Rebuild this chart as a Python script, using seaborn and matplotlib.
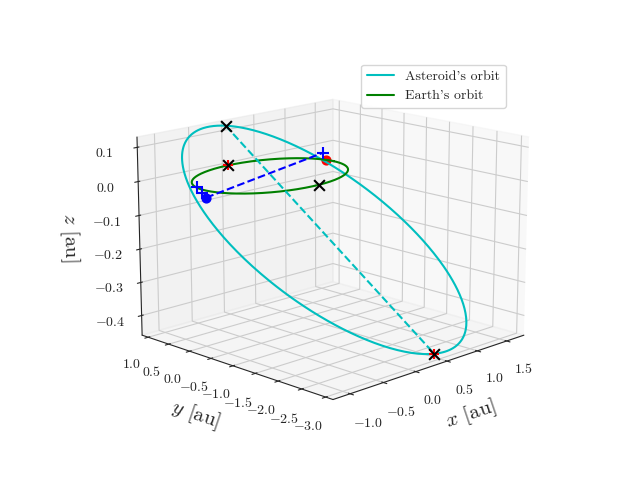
import numpy as np
import matplotlib
matplotlib.use("Agg")
import matplotlib.pyplot as plt
import seaborn as sns

sns.set_style("white")
plt.rcParams.update({"mathtext.fontset": "cm", "font.family": "serif",
                     "font.serif": ["cmr10"], "axes.formatter.use_mathtext": True})

# asteroid orbit parameters
ast_a = [2.0]
ast_e = [0.55]
peri_dir = [-0.12, 0.98, 0.14]
q_dir = [0.98, 0.12, -0.05]
earth_r = [1.0]
n_pts = 400

earth_pos = [0.97, 0.15, 0.0]
earth_node = [0.05, -1.0, 0.0]
red_x = [0.0, 1.0, 0.0]
ast_pos = [-1.0, -0.05, -0.02]
plus_x = [0.85, -0.97, -1.0]
plus_y = [0.05, 0.2, 0.05]
plus_z = [0.03, 0.0, -0.01]

x_ticks = [-1.0, -0.5, 0.0, 0.5, 1.0, 1.5]
y_ticks = [-3.0, -2.5, -2.0, -1.5, -1.0, -0.5, 0.0, 0.5, 1.0]
z_ticks = [-0.4, -0.3, -0.2, -0.1, 0.0, 0.1]

P = np.array(peri_dir); P /= np.linalg.norm(P)
Q = np.array(q_dir); Q -= Q.dot(P) * P; Q /= np.linalg.norm(Q)
nu = np.linspace(0, 2 * np.pi, n_pts)
r = ast_a[0] * (1 - ast_e[0] ** 2) / (1 + ast_e[0] * np.cos(nu))
orb = r[:, None] * (np.cos(nu)[:, None] * P + np.sin(nu)[:, None] * Q)
th = np.linspace(0, 2 * np.pi, n_pts)
peri = P * ast_a[0] * (1 - ast_e[0])
apo = -P * ast_a[0] * (1 + ast_e[0])

fig = plt.figure(figsize=(6.4, 4.8), dpi=100)
ax = fig.add_subplot(projection="3d")
ax.plot(orb[:, 0], orb[:, 1], orb[:, 2], color="c", label="Asteroid's orbit")
ax.plot(earth_r[0] * np.cos(th), earth_r[0] * np.sin(th), 0 * th, color="g", label="Earth's orbit")
ax.plot([peri[0], apo[0]], [peri[1], apo[1]], [peri[2], apo[2]], "c--")
ax.scatter(*earth_pos, color="r", s=40, depthshade=False)
ax.scatter(*ast_pos, color="b", s=40, depthshade=False)
ax.plot([ast_pos[0], plus_x[0]], [ast_pos[1], plus_y[0]], [ast_pos[2], plus_z[0]], "b--")
ax.scatter(plus_x, plus_y, plus_z, color="b", marker="+", s=80, depthshade=False)
ax.scatter([red_x[0], apo[0]], [red_x[1], apo[1]], [red_x[2], apo[2]], color="r", marker="+", s=60, depthshade=False)
ax.scatter([peri[0], apo[0], earth_node[0], red_x[0]], [peri[1], apo[1], earth_node[1], red_x[1]],
           [peri[2], apo[2], earth_node[2], red_x[2]], color="k", marker="x", s=60, depthshade=False)
ax.set_xticks(x_ticks)
ax.set_yticks(y_ticks)
ax.set_zticks(z_ticks)
ax.set_xlim(-1.25, 1.8)
ax.set_ylim(-3.15, 1.15)
ax.set_zlim(-0.46, 0.13)
ax.set_xlabel(r"$x$ [au]", fontsize=15)
ax.set_ylabel(r"$y$ [au]", fontsize=15)
ax.set_zlabel(r"$z$ [au]", fontsize=15)
ax.view_init(elev=15, azim=-135)
ax.set_box_aspect(None, zoom=1.15)
ax.legend(loc="upper right")
fig.savefig("out.png", dpi=100)
